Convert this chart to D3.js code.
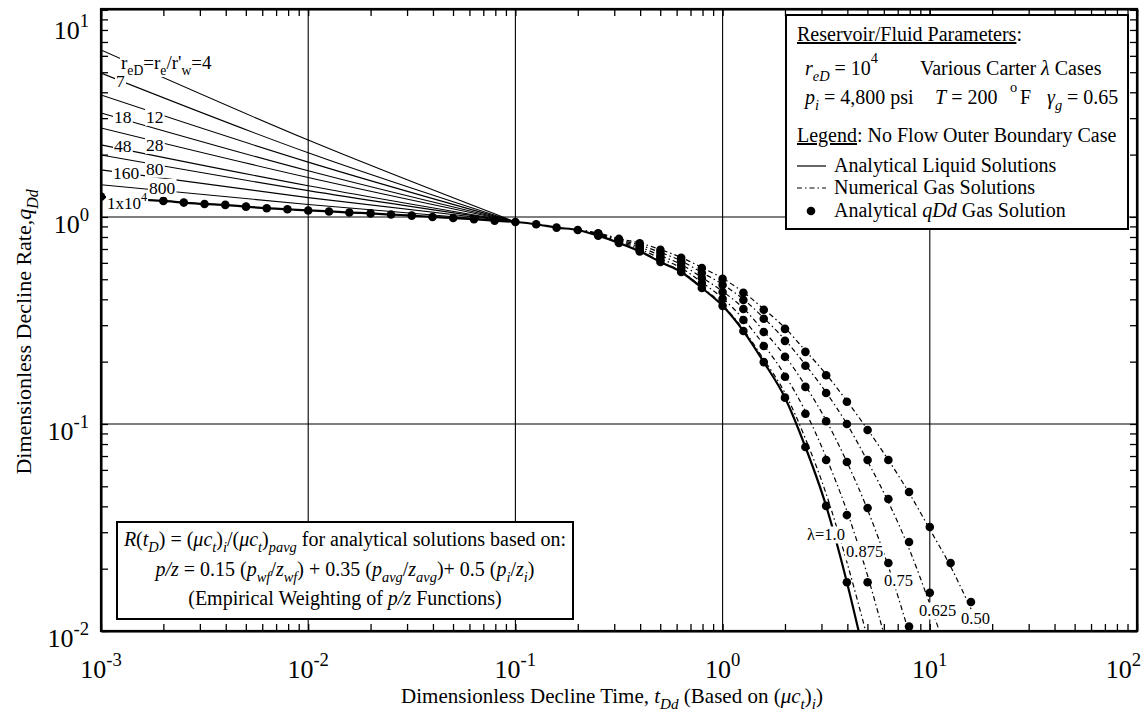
<!DOCTYPE html>
<html><head><meta charset="utf-8">
<script src="https://cdn.jsdelivr.net/npm/d3@7"></script>
<style>
body{margin:0;background:#fff}
svg{display:block}
text{font-family:"Liberation Serif","Times New Roman",serif;fill:#000;white-space:pre}
</style></head>
<body><svg id="c" width="1145" height="717" font-family="Liberation Serif, Times New Roman, serif"></svg>
<script>
// ---------- data ----------
const tGrid = [0.001,0.00126,0.00158,0.002,0.00251,0.00316,0.00398,0.00501,0.00631,0.00794,
  0.01,0.0126,0.0158,0.02,0.0251,0.0316,0.0398,0.0501,0.0631,0.0794,
  0.1,0.126,0.158,0.2,0.251,0.316,0.398,0.501,0.631,0.794,
  1,1.26,1.58,2,2.51,3.16,3.98,5.01,6.31,7.94,
  10,12.6,15.8,20];
// shared early-time values (r_eD = 1e4), k = 0..23
const qShared = [1.253,1.225,1.21,1.195,1.173,1.155,1.143,1.121,1.102,1.089,
  1.075,1.063,1.05,1.04,1.027,1.015,1.0,0.988,0.975,0.96,0.945,0.922,0.888,0.865];
// analytical qDd gas solution dots from k = 24
const qDots050  = [0.834,0.783,0.745,0.693,0.634,0.567,0.502,0.430,0.356,0.288,0.223,0.172,0.128,0.0935,0.067,0.0469,0.0318,0.0213,0.0138];
const qDots0625 = [0.829,0.775,0.729,0.671,0.610,0.536,0.469,0.397,0.322,0.252,0.191,0.141,0.100,0.067,0.0434,0.0269,0.0153];
const qDots075  = [0.824,0.766,0.713,0.648,0.586,0.507,0.434,0.359,0.278,0.211,0.151,0.103,0.0655,0.0393,0.0213,0.0105];
const qDots0875 = [0.818,0.757,0.698,0.627,0.564,0.480,0.402,0.318,0.238,0.169,0.112,0.067,0.0363,0.0172];
const qDots100  = [0.812,0.749,0.682,0.606,0.542,0.454,0.372,0.281,0.199,0.134,0.0774,0.0402,0.0172];
// analytical liquid solution (lambda = 1, r_eD = 1e4) from k = 24
const qLiquidLate = [0.812,0.749,0.682,0.606,0.542,0.454,0.372,0.281,0.199,0.134,0.0774,0.0402,0.0172,0.0065];
// numerical gas solutions from k = 24
const qNum100  = [0.815,0.752,0.686,0.61,0.546,0.458,0.376,0.286,0.205,0.141,0.085,0.046,0.0215,0.0092];
const qNum0875 = [0.82,0.76,0.70,0.63,0.567,0.483,0.405,0.321,0.241,0.172,0.115,0.069,0.038,0.0185,0.008];
const qNum075  = [0.826,0.768,0.716,0.651,0.589,0.51,0.437,0.362,0.281,0.213,0.153,0.104,0.0655,0.0385,0.0205,0.0098];
const qNum0625 = [0.831,0.777,0.732,0.674,0.613,0.539,0.472,0.40,0.325,0.255,0.193,0.142,0.10,0.066,0.042,0.025,0.0135,0.007];
const qNum050  = [0.836,0.786,0.748,0.696,0.637,0.57,0.505,0.433,0.359,0.291,0.226,0.174,0.129,0.094,0.067,0.0465,0.031,0.0205,0.0128,0.0078];
// transient stems (r_eD) at t = 0.001, 0.01, 0.1
const stemT = [0.001,0.01,0.1];
const stemNames = ["4","7","12","18","28","48","80","160","800"];
const stemQ = [[6.4,2.35,0.946],[4.95,2.04,0.946],[3.88,1.84,0.946],[3.18,1.67,0.946],[2.69,1.55,0.946],
  [2.23,1.415,0.946],[1.99,1.34,0.946],[1.687,1.24,0.946],[1.43,1.148,0.946]];
const xTickExp = [-3,-2,-1,0,1,2];
const yTickExp = [-2,-1,0,1];
const lambdaNames = ["\u03bb=1.0","0.875","0.75","0.625","0.50"];

// ---------- setup ----------
const svg = d3.select("#c");
const M = {l:101, r:1137, t:9, b:631};
const x = d3.scaleLog().domain([1e-3,1e2]).range([M.l,M.r]);
const y = d3.scaleLog().domain([0.01,10.1]).range([M.b,M.t]);
svg.append("rect").attr("width",1145).attr("height",717).attr("fill","#fff");
svg.append("clipPath").attr("id","clip").append("rect")
  .attr("x",M.l).attr("y",M.t).attr("width",M.r-M.l).attr("height",M.b-M.t);

function rich(g, px, py, segs, size, anchor){
  const t = g.append("text").attr("x",px).attr("y",py).attr("font-size",size)
    .attr("font-family","Liberation Serif, Times New Roman, serif")
    .attr("text-anchor",anchor||"start");
  let shift = 0;
  segs.forEach(s => {
    const str = s[0], st = (s[1]||"").split(" ");
    let target = 0, fs = size;
    if (st.includes("sub")) { target = size*0.3; fs = size*0.72; }
    if (st.includes("sup")) { target = -size*0.45; fs = size*0.72; }
    if (st.includes("hsup")) { target = -size*0.62; fs = size*0.72; }
    const ts = t.append("tspan").attr("dy", target-shift).attr("font-size",fs).text(str);
    shift = target;
    if (st.includes("i")) ts.attr("font-style","italic");
    if (st.includes("u")) ts.attr("text-decoration","underline");
  });
  return t;
}

// grid
const grid = svg.append("g").attr("stroke","#000").attr("stroke-width",1.1);
[1e-2,1e-1,1,10].forEach(v => grid.append("line").attr("x1",x(v)).attr("x2",x(v)).attr("y1",M.t).attr("y2",M.b));
[0.1,1].forEach(v => grid.append("line").attr("y1",y(v)).attr("y2",y(v)).attr("x1",M.l).attr("x2",M.r));

const plot = svg.append("g").attr("clip-path","url(#clip)");
const line = d3.line().x(d=>x(d[0])).y(d=>y(d[1])).curve(d3.curveMonotoneX);
const late = arr => arr.map((q,i)=>[tGrid[24+i], q]);

// stems
stemQ.forEach(qs => {
  plot.append("path").datum(qs.map((q,i)=>[stemT[i],q])).attr("d",line)
    .attr("fill","none").attr("stroke","#000").attr("stroke-width",1.1);
});
// liquid
const liquid = qShared.map((q,i)=>[tGrid[i],q]).concat(late(qLiquidLate));
plot.append("path").datum(liquid).attr("d",line).attr("fill","none").attr("stroke","#000").attr("stroke-width",2.2);
// numerical gas
const startPt = [[tGrid[23], qShared[23]]];
[qNum100,qNum0875,qNum075,qNum0625,qNum050].forEach(arr => {
  plot.append("path").datum(startPt.concat(late(arr))).attr("d",line).attr("fill","none")
    .attr("stroke","#000").attr("stroke-width",1.2).attr("stroke-dasharray","5,3,1.5,3");
});
// dots
const dots = qShared.map((q,i)=>[tGrid[i],q]);
[qDots050,qDots0625,qDots075,qDots0875,qDots100].forEach(arr => late(arr).forEach(d=>dots.push(d)));
plot.selectAll("circle.d").data(dots).enter().append("circle").attr("class","d")
  .attr("cx",d=>x(d[0])).attr("cy",d=>y(d[1])).attr("r",4.3).attr("fill","#000");

// labels with white backgrounds
function bgLabel(px, cy, segs, size){
  const g = svg.append("g");
  const t = rich(g, px, cy + size*0.33, segs, size);
  const b = t.node().getBBox();
  g.insert("rect","text").attr("x",b.x-1).attr("y",b.y+1).attr("width",b.width+2).attr("height",b.height-2).attr("fill","#fff");
}
bgLabel(121,63,[["r"],["eD","sub"],["=r"],["e","sub"],["/r'"],["w","sub"],["=4"]],19);
const stemLab = [["7",116,81],["18",114,117],["12",146,117],["48",114,146],["28",146,145],
  ["160",113,173],["80",146,169],["800",149,188]];
stemLab.forEach(s => bgLabel(s[1],s[2],[[s[0]]],17.5));
bgLabel(107,203,[["1x10"],["4","sup"]],17);
const lamPos = [[807,535],[846,552],[884,581],[919,611],[961,619]];
lambdaNames.forEach((n,i)=> bgLabel(lamPos[i][0],lamPos[i][1],[[n]],16.5));

// legend box
const lg = svg.append("g");
lg.append("rect").attr("x",786).attr("y",15).attr("width",342).attr("height",214)
  .attr("fill","#fff").attr("stroke","#000").attr("stroke-width",2);
const LF = 20;
rich(lg,797,41,[["Reservoir/Fluid Parameters","u"],[":"]],LF);
rich(lg,805,75,[["r","i"],["eD","i sub"],[" = 10"],["4","hsup"]],LF);
rich(lg,920,75,[["Various Carter "],["\u03bb","i"],[" Cases"]],LF);
rich(lg,805,104,[["p","i"],["i","i sub"],[" = 4,800 psi"]],LF);
rich(lg,935,104,[["T","i"],[" = 200"]],LF);
rich(lg,1010,104,[["o","hsup"]],LF);
rich(lg,1020,104,[["F"]],LF);
rich(lg,1047,104,[["\u03b3","i"],["g","i sub"],[" = 0.65"]],LF);
rich(lg,797,142,[["Legend","u"],[": No Flow Outer Boundary Case"]],LF);
lg.append("line").attr("x1",797).attr("x2",826).attr("y1",166).attr("y2",166).attr("stroke","#000").attr("stroke-width",1.2);
rich(lg,834,172,[["Analytical Liquid Solutions"]],LF);
lg.append("line").attr("x1",797).attr("x2",826).attr("y1",188).attr("y2",188).attr("stroke","#000").attr("stroke-width",1.2).attr("stroke-dasharray","5,3,1.5,3");
rich(lg,834,194,[["Numerical Gas Solutions"]],LF);
lg.append("circle").attr("cx",811).attr("cy",211).attr("r",4.3).attr("fill","#000");
rich(lg,834,217,[["Analytical "],["qDd","i"],[" Gas Solution"]],LF);

// annotation box
const ab = svg.append("g");
ab.append("rect").attr("x",117).attr("y",522).attr("width",456).attr("height",97)
  .attr("fill","#fff").attr("stroke","#000").attr("stroke-width",2);
const AF = 20;
rich(ab,345,546,[["R","i"],["("],["t","i"],["D","i sub"],[") = ("],["\u03bcc","i"],["t","i sub"],[")"],["i","i sub"],["/("],["\u03bcc","i"],["t","i sub"],[")"],["pavg","i sub"],[" for analytical solutions based on:"]],AF,"middle");
rich(ab,345,576,[["p/z","i"],[" = 0.15 ("],["p","i"],["wf","i sub"],["/"],["z","i"],["wf","i sub"],[") + 0.35 ("],["p","i"],["avg","i sub"],["/"],["z","i"],["avg","i sub"],[")+ 0.5 ("],["p","i"],["i","i sub"],["/"],["z","i"],["i","i sub"],[")"]],AF,"middle");
rich(ab,345,605,[["(Empirical Weighting of "],["p/z","i"],[" Functions)"]],AF,"middle");

// axes
function styleAxis(g){ g.selectAll(".tick line").attr("stroke-width",1.3); g.select(".domain").attr("stroke-width",2); }
const xt = x.ticks(), yt = y.ticks();
svg.append("g").attr("transform",`translate(0,${M.b})`).call(d3.axisBottom(x).tickValues(xt).tickFormat("").tickSize(-7).tickSizeOuter(0)).call(styleAxis);
svg.append("g").attr("transform",`translate(0,${M.t})`).call(d3.axisTop(x).tickValues(xt).tickFormat("").tickSize(-7).tickSizeOuter(0)).call(styleAxis);
svg.append("g").attr("transform",`translate(${M.l},0)`).call(d3.axisLeft(y).tickValues(yt).tickFormat("").tickSize(-7).tickSizeOuter(0)).call(styleAxis);
svg.append("g").attr("transform",`translate(${M.r},0)`).call(d3.axisRight(y).tickValues(yt).tickFormat("").tickSize(-7).tickSizeOuter(0)).call(styleAxis);
svg.append("rect").attr("x",M.l).attr("y",M.t).attr("width",M.r-M.l).attr("height",M.b-M.t).attr("fill","none").attr("stroke","#000").attr("stroke-width",2.2);

// tick labels
const TF = 26;
xTickExp.forEach(e => {
  const px = e===2 ? 1141 : x(Math.pow(10,e));
  rich(svg, px, 678, [["10"],[String(e),"sup"]], TF, e===2 ? "end" : "middle");
});
yTickExp.forEach(e => {
  const yy = e===1 ? 39 : y(Math.pow(10,e)) + 16;
  rich(svg, 89, yy, [["10"],[String(e),"sup"]], TF, "end");
});

// axis titles
rich(svg, 612, 703, [["Dimensionless Decline Time, "],["t","i"],["Dd","i sub"],[" (Based on ("],["\u03bcc","i"],["t","i sub"],[")"],["i","i sub"],[")"]], 21, "middle");
const yt2 = rich(svg, 0, 0, [["Dimensionless Decline Rate,"],["q","i"],["Dd","i sub"]], 22, "middle");
yt2.attr("transform","translate(31,332) rotate(-90)");
</script></body></html>
